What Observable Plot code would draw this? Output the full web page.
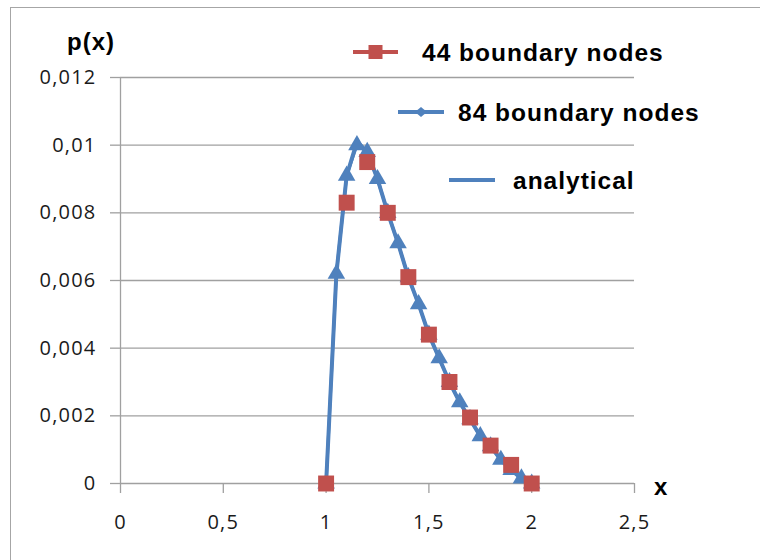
<!DOCTYPE html>
<html><head><meta charset="utf-8">
<script src="https://cdn.jsdelivr.net/npm/d3@7"></script>
<script src="https://cdn.jsdelivr.net/npm/@observablehq/plot@0.6"></script>
<style>
html,body{margin:0;padding:0;background:#fff;overflow:hidden;width:760px;height:560px}
#frame{position:absolute;left:10px;top:7px;width:800px;height:600px;border:1.5px solid #a6a6a6;box-sizing:border-box}
#chart{position:absolute;left:0;top:0}
#chart svg g[aria-label="y-axis tick label"] text,
#chart svg g[aria-label="x-axis tick label"] text{letter-spacing:1.2px}
</style></head><body>
<div id="frame"></div>
<div id="chart"></div>
<script>
// tick values
const xTicks = [0, 0.5, 1, 1.5, 2, 2.5];
const yTicks = [0, 0.002, 0.004, 0.006, 0.008, 0.010, 0.012];

// 44 boundary nodes (squares)
const x44 = [1.0, 1.1, 1.2, 1.3, 1.4, 1.5, 1.6, 1.7, 1.8, 1.9, 2.0];
const y44 = [0, 0.0083, 0.0095, 0.0080, 0.0061, 0.0044, 0.0030, 0.00195, 0.00112, 0.00055, 0];

// 84 boundary nodes (triangles)
const x84 = [1.0, 1.05, 1.1, 1.15, 1.2, 1.25, 1.3, 1.35, 1.4, 1.45, 1.5, 1.55, 1.6, 1.65, 1.7, 1.75, 1.8, 1.85, 1.9, 1.95, 2.0];
const y84 = [0, 0.0062, 0.0091, 0.0100, 0.0098, 0.0090, 0.0080, 0.0071, 0.0061, 0.0053, 0.0044, 0.0037, 0.0030, 0.0024, 0.0019, 0.0014, 0.0011, 0.0007, 0.0004, 0.00015, 0];

// analytical
const xAn = [1.0, 1.05, 1.1, 1.15, 1.2, 1.25, 1.3, 1.35, 1.4, 1.45, 1.5, 1.55, 1.6, 1.65, 1.7, 1.75, 1.8, 1.85, 1.9, 1.95, 2.0];
const yAn = [0, 0.0062, 0.0091, 0.0101, 0.0098, 0.0090, 0.0080, 0.0071, 0.0061, 0.0053, 0.0044, 0.0037, 0.0030, 0.0024, 0.0019, 0.0014, 0.0011, 0.0007, 0.0004, 0.00015, 0];

const seriesNames = ["44 boundary nodes", "84 boundary nodes", "analytical"];
const red = "#C0504D", blue = "#4F81BD", grid = "#a0a0a0";

const d44 = x44.map((x, i) => ({x, y: y44[i]}));
const d84 = x84.map((x, i) => ({x, y: y84[i]}));
const dAn = xAn.map((x, i) => ({x, y: yAn[i]}));

const fmt = d => String(+(+d).toFixed(3)).replace(".", ",");

const plot = Plot.plot({
  width: 760, height: 560,
  marginLeft: 120, marginRight: 126, marginTop: 77, marginBottom: 77,
  style: {fontFamily: "'Open Sans', sans-serif", fontSize: "20px", background: "transparent", overflow: "visible"},
  x: {domain: [0, 2.5]},
  y: {domain: [0, 0.012]},
  marks: [
    Plot.gridY(yTicks, {stroke: grid, strokeOpacity: 1, strokeWidth: 1.3}),
    Plot.ruleX([0], {stroke: grid, strokeWidth: 1.3}),
    Plot.axisY(yTicks, {tickSize: 10, tickPadding: 14, tickFormat: fmt, stroke: grid, fill: "#1a1a1a", label: null, strokeWidth: 1.3}),
    Plot.axisX(xTicks, {tickSize: 10, tickPadding: 21, tickFormat: fmt, stroke: grid, fill: "#1a1a1a", label: null, strokeWidth: 1.3}),
    Plot.line(dAn, {x: "x", y: "y", stroke: blue, strokeWidth: 4}),
    Plot.line(d84, {x: "x", y: "y", stroke: blue, strokeWidth: 3}),
    Plot.dot(d84, {x: "x", y: "y", symbol: "triangle", r: 6.5, fill: blue, stroke: "none"}),
    Plot.dot(d44, {x: "x", y: "y", symbol: "square", r: 9, fill: red, stroke: "none"})
  ]
});
document.getElementById("chart").appendChild(plot);

// titles and legend overlay
const svg = d3.select(plot);
const g = svg.append("g")
  .attr("font-family", "'Liberation Sans', Arial, sans-serif")
  .attr("font-weight", "bold").attr("fill", "#000").attr("text-anchor", "start");
g.append("text").attr("x", 67).attr("y", 50).attr("font-size", 24).attr("letter-spacing", "1px").text("p(x)");
g.append("text").attr("x", 654).attr("y", 495).attr("font-size", 24).text("x");

const leg = [
  {name: seriesNames[0], color: red, x1: 353, x2: 398, y: 52, marker: "square", tx: 422},
  {name: seriesNames[1], color: blue, x1: 398, x2: 444, y: 112, marker: "diamond", tx: 458},
  {name: seriesNames[2], color: blue, x1: 449, x2: 495, y: 180, marker: null, tx: 513}
];
for (const l of leg) {
  g.append("line").attr("x1", l.x1).attr("x2", l.x2).attr("y1", l.y).attr("y2", l.y)
    .attr("stroke", l.color).attr("stroke-width", 4);
  const cx = (l.x1 + l.x2) / 2;
  if (l.marker === "square") {
    g.append("rect").attr("x", cx - 7).attr("y", l.y - 7).attr("width", 14).attr("height", 14).attr("fill", l.color);
  } else if (l.marker === "diamond") {
    g.append("path").attr("d", `M${cx - 6},${l.y}L${cx},${l.y - 5}L${cx + 6},${l.y}L${cx},${l.y + 5}Z`).attr("fill", l.color);
  }
  g.append("text").attr("x", l.tx).attr("y", l.y).attr("dy", "0.36em")
    .attr("font-size", 24.5).attr("letter-spacing", "1px").text(l.name);
}
</script>
</body></html>
